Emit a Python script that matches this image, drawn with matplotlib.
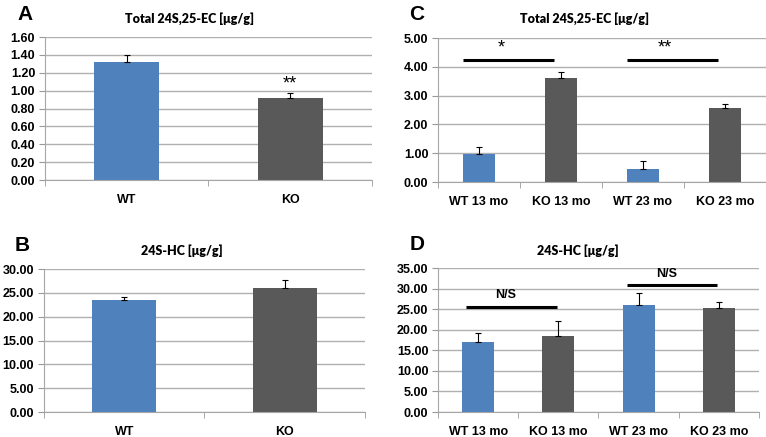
import matplotlib.pyplot as plt
from matplotlib.ticker import FixedLocator

# panel A / B : two groups
groups_ab = ['WT', 'KO']
ec_ab = [1.32, 0.92]
ec_ab_err = [0.08, 0.05]
hc_ab = [23.6, 26.0]
hc_ab_err = [0.6, 1.7]

# panel C / D : four groups
groups_cd = ['WT 13 mo', 'KO 13 mo', 'WT 23 mo', 'KO 23 mo']
ec_cd = [0.97, 3.62, 0.45, 2.58]
ec_cd_err = [0.23, 0.21, 0.27, 0.12]
hc_cd = [16.9, 18.5, 26.0, 25.4]
hc_cd_err = [2.4, 3.7, 3.0, 1.4]

BLUE = '#4f81bd'
GREY = '#595959'
TICK_FONT = 'Liberation Sans'
TITLE_FONT = 'Lato'
W, H = 766, 437


def bar_panel(ax, groups, values, errors, ymax, ystep, title, title_xy):
    x = list(range(len(groups)))
    colors = [BLUE if g.startswith('WT') else GREY for g in groups]
    ax.bar(x, values, width=0.4, color=colors, zorder=2)
    ax.errorbar(x, values, yerr=[[0] * len(errors), errors], fmt='none',
                ecolor='black', elinewidth=0.8, capsize=2, capthick=0.8, zorder=3)
    ax.set_xlim(-0.5, len(groups) - 0.5)
    ax.set_ylim(0, ymax)
    ticks = [i * ystep for i in range(int(round(ymax / ystep)) + 1)]
    ax.set_yticks(ticks)
    ax.set_yticklabels([f'{t:.2f}' for t in ticks], fontsize=9, fontweight='bold',
                       family=TICK_FONT)
    ax.set_xticks(x)
    ax.set_xticklabels(groups, fontsize=9, fontweight='bold', family=TICK_FONT)
    ax.tick_params(axis='x', which='major', length=0, pad=10)
    ax.xaxis.set_minor_locator(FixedLocator([i - 0.5 for i in range(len(groups) + 1)]))
    ax.tick_params(axis='x', which='minor', length=4, color='#999999', direction='out')
    ax.tick_params(axis='y', length=4, color='#999999', direction='out', pad=3)
    ax.grid(axis='y', color='#b0b0b0', linewidth=1, zorder=0)
    ax.set_axisbelow(True)
    for side in ['top', 'right']:
        ax.spines[side].set_visible(False)
    for side in ['left', 'bottom']:
        ax.spines[side].set_color('#a6a6a6')
    fig.text(title_xy[0] / W, 1 - title_xy[1] / H, title, ha='center', va='center',
             fontsize=9, fontweight='heavy', family=TITLE_FONT)


fig = plt.figure(figsize=(7.66, 4.37), dpi=100)
axA = fig.add_axes([0.0587, 0.5881, 0.4269, 0.3272])
axC = fig.add_axes([0.5718, 0.5835, 0.4282, 0.3295])
axB = fig.add_axes([0.0574, 0.0572, 0.4190, 0.3272])
axD = fig.add_axes([0.5718, 0.0572, 0.4190, 0.3295])

bar_panel(axA, groups_ab, ec_ab, ec_ab_err, 1.6, 0.2, 'Total 24S,25-EC [\u03bcg/g]', (190, 19))
bar_panel(axC, groups_cd, ec_cd, ec_cd_err, 5.0, 1.0, 'Total 24S,25-EC [\u03bcg/g]', (585, 19))
bar_panel(axB, groups_ab, hc_ab, hc_ab_err, 30.0, 5.0, '24S-HC [\u03bcg/g]', (182, 251))
bar_panel(axD, groups_cd, hc_cd, hc_cd_err, 35.0, 5.0, '24S-HC [\u03bcg/g]', (578, 251))

# significance marks
axA.text(1, 1.08, '**', ha='center', va='center', fontsize=13, family=TICK_FONT)
for (x0, x1), y, label in [((-0.2, 0.92), 4.23, '*'), ((1.8, 2.92), 4.23, '**')]:
    axC.plot([x0, x1], [y, y], color='black', linewidth=2.2, solid_capstyle='butt')
    axC.text((x0 + x1) / 2 - 0.09, y + 0.12, label, ha='center', va='bottom',
             fontsize=13, family=TICK_FONT)
for (x0, x1), y, label in [((-0.15, 0.98), 25.6, 'N/S'), ((1.85, 2.98), 30.8, 'N/S')]:
    axD.plot([x0, x1], [y, y], color='black', linewidth=2.2, solid_capstyle='butt')
    axD.text((x0 + x1) / 2 - 0.07, y + 1.4, label, ha='center', va='bottom',
             fontsize=9, fontweight='bold', family=TICK_FONT)

# panel letters
for letter, px, py in [('A', 25, 14), ('C', 417, 14), ('B', 22, 246), ('D', 417, 245)]:
    fig.text(px / W, 1 - py / H, letter, ha='center', va='center',
             fontsize=15, fontweight='bold', family=TICK_FONT)

fig.savefig('out.png', dpi=100)
